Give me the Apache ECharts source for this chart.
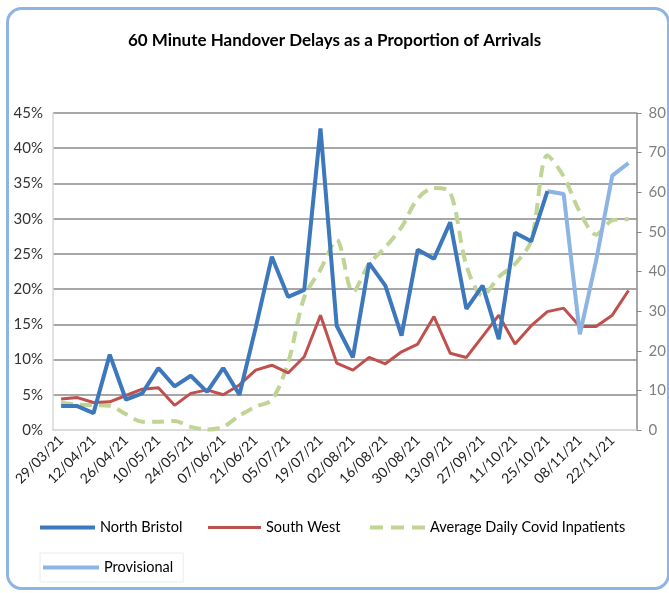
<!DOCTYPE html>
<html lang="en">
  <head>
    <meta charset="UTF-8" />
    <title>60 Minute Handover Delays</title>
    <style>
      html, body { margin: 0; padding: 0; background: #fff; }
      #chart { width: 669px; height: 593px; }
    </style>
  </head>
  <body>
    <div id="chart"></div>
    <script src="https://cdn.jsdelivr.net/npm/echarts@6/dist/echarts.min.js"></script>
    <script>
      // weekly categories (week commencing)
      var weeks = ['29/03/21', '05/04/21', '12/04/21', '19/04/21', '26/04/21', '03/05/21', '10/05/21', '17/05/21',
        '24/05/21', '31/05/21', '07/06/21', '14/06/21', '21/06/21', '28/06/21', '05/07/21', '12/07/21',
        '19/07/21', '26/07/21', '02/08/21', '09/08/21', '16/08/21', '23/08/21', '30/08/21', '06/09/21',
        '13/09/21', '20/09/21', '27/09/21', '04/10/21', '11/10/21', '18/10/21', '25/10/21', '01/11/21',
        '08/11/21', '15/11/21', '22/11/21', '29/11/21'];

      // % of arrivals
      var northBristol = [3.4, 3.4, 2.4, 10.7, 4.3, 5.2, 8.8, 6.2, 7.7, 5.4, 8.8, 5.0, 14.5, 24.6, 18.9, 19.9,
        42.8, 14.8, 10.3, 23.7, 20.5, 13.4, 25.6, 24.3, 29.5, 17.2, 20.5, 12.9, 28.0, 26.8, 33.9,
        null, null, null, null, null];
      var provisional = [null, null, null, null, null, null, null, null, null, null, null, null, null, null, null, null,
        null, null, null, null, null, null, null, null, null, null, null, null, null, null,
        33.9, 33.5, 13.6, 24.0, 36.1, 37.9];
      var southWest = [4.4, 4.6, 3.9, 4.0, 4.9, 5.8, 6.0, 3.5, 5.2, 5.7, 5.0, 6.4, 8.5, 9.2, 8.1, 10.4,
        16.3, 9.5, 8.5, 10.3, 9.4, 11.1, 12.2, 16.1, 10.9, 10.3, 13.3, 16.3, 12.2, 14.8, 16.8, 17.3,
        14.7, 14.7, 16.3, 19.8];
      // right axis, patients
      var covidInpatients = [6.9, 6.4, 6.3, 6.1, 4.0, 2.1, 2.1, 2.3, 0.8, 0.1, 0.8, 3.6, 5.9, 7.6, 17, 33.5,
        40.5, 48.0, 34.8, 41.9, 46.1, 51.2, 58.4, 61.1, 60.0, 41.5, 33.9, 38.6, 41.9, 47.8, 69.3, 64.0,
        55.0, 49.3, 52.9, 53.2];

      var font = 'Lato';
      var legendText = { fontSize: 14.5, color: '#000' };
      var chart = echarts.init(document.getElementById('chart'), null, { renderer: 'canvas' });

      var option = {
        animation: false,
        textStyle: { fontFamily: font },
        title: {
          text: '60 Minute Handover Delays as a Proportion of Arrivals',
          left: 'center',
          top: 27,
          textStyle: { fontSize: 17, fontWeight: 'bold', color: '#000', fontFamily: font }
        },
        graphic: [{
          type: 'rect',
          shape: { x: 7.5, y: 8.5, width: 661, height: 580, r: 14 },
          style: { fill: 'none', stroke: '#8db4e2', lineWidth: 3 },
          z: -1
        }],
        legend: [
          { data: ['North Bristol'], left: 35, top: 515, icon: 'rect', itemWidth: 55, itemHeight: 4, textStyle: legendText },
          { data: ['South West'], left: 203, top: 515, icon: 'rect', itemWidth: 53, itemHeight: 3, textStyle: legendText },
          { data: ['Average Daily Covid Inpatients'], left: 365, top: 515, itemWidth: 55, itemHeight: 4,
            icon: 'path://M0,0h13v4H0z M21,0h13v4H21z M42,0h13v4H42z', textStyle: legendText },
          { data: ['Provisional'], left: 40, top: 553, padding: [7, 10, 7, 3], icon: 'rect', itemWidth: 56, itemHeight: 4,
            borderColor: '#ececec', borderWidth: 1, textStyle: legendText }
        ],
        grid: { left: 53, right: 27, top: 113, bottom: 163 },
        xAxis: {
          type: 'category',
          data: weeks,
          boundaryGap: true,
          axisLine: { lineStyle: { color: '#d0d0d0', width: 1.5 } },
          axisTick: { interval: 0, length: 4, lineStyle: { color: '#c8c8c8' } },
          axisLabel: { interval: 1, rotate: 45, fontSize: 14, color: '#222', margin: 8 }
        },
        yAxis: [
          {
            type: 'value',
            min: 0, max: 45, interval: 5,
            axisLine: { show: true, lineStyle: { color: '#d9d9d9', width: 1.5 } },
            axisTick: { show: false },
            axisLabel: { formatter: '{value}%', fontSize: 15, color: '#333', margin: 10 },
            splitLine: { showMinLine: false, lineStyle: { color: '#8a8a8a', width: 1.5 } }
          },
          {
            type: 'value',
            min: 0, max: 80, interval: 10,
            position: 'right',
            axisLine: { show: true, lineStyle: { color: '#8a8a8a', width: 1.5 } },
            axisTick: { show: true, length: 5, lineStyle: { color: '#8a8a8a' } },
            axisLabel: { fontSize: 15, color: '#7f7f7f', margin: 12 },
            splitLine: { show: false }
          }
        ],
        series: [
          {
            name: 'Average Daily Covid Inpatients',
            type: 'line',
            yAxisIndex: 1,
            data: covidInpatients,
            smooth: 0.3,
            symbol: 'none',
            itemStyle: { color: '#bfd495' },
            lineStyle: { color: '#bfd495', width: 4, type: [12, 7] },
            z: 2
          },
          {
            name: 'South West',
            type: 'line',
            data: southWest,
            symbol: 'none',
            itemStyle: { color: '#c0504d' },
            lineStyle: { color: '#c0504d', width: 3 },
            z: 3
          },
          {
            name: 'Provisional',
            type: 'line',
            data: provisional,
            symbol: 'none',
            itemStyle: { color: '#8db4e2' },
            lineStyle: { color: '#8db4e2', width: 4 },
            z: 4
          },
          {
            name: 'North Bristol',
            type: 'line',
            data: northBristol,
            symbol: 'none',
            itemStyle: { color: '#3d78bd' },
            lineStyle: { color: '#3d78bd', width: 4 },
            z: 5
          }
        ]
      };

      chart.setOption(option);
    </script>
  </body>
</html>
